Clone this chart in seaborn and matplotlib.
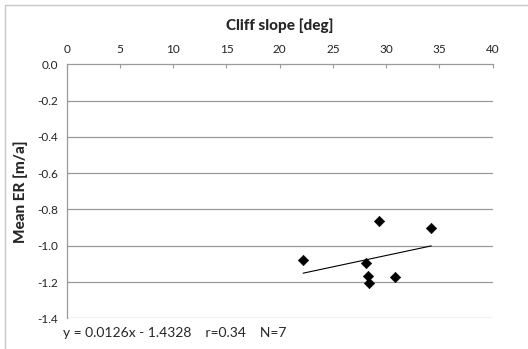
import numpy as np
import pandas as pd
import matplotlib
matplotlib.use("Agg")
import matplotlib.pyplot as plt
import seaborn as sns

slope_deg = [22.2, 28.13, 28.29, 28.42, 29.3, 30.83, 34.23]
mean_er = [-1.079, -1.094, -1.165, -1.204, -0.866, -1.174, -0.902]
x_ticks = [0, 5, 10, 15, 20, 25, 30, 35, 40]
y_ticks = [0.0, -0.2, -0.4, -0.6, -0.8, -1.0, -1.2, -1.4]
eq_text = "y = 0.0126x - 1.4328    r=0.34    N=7"

sns.set_style("white")
plt.rcParams['font.family'] = ['Lato', 'DejaVu Sans']

df = pd.DataFrame({"slope": slope_deg, "er": mean_er})
coef = np.polyfit(df["slope"], df["er"], 1)
xs = np.array([df["slope"].min(), df["slope"].max()])
fit = pd.DataFrame({"slope": xs, "er": np.polyval(coef, xs)})

fig = plt.figure(figsize=(5.28, 3.49), dpi=100)
W, H = 528, 349
ax = fig.add_axes([66.7 / W, 1 - 318.3 / H, (492.7 - 66.7) / W, (318.3 - 64.3) / H])

# outer chart border
fig.patches.append(plt.Rectangle((5 / W, -0.1), 1.2, 1 - 5 / H + 0.1, transform=fig.transFigure,
                                 fill=False, edgecolor="#c8c8c8", linewidth=1.0))

grid_c = "#9a9a9a"
for yv in y_ticks[1:]:
    ax.axhline(yv, color=grid_c, linewidth=0.9, zorder=0)

sns.lineplot(data=fit, x="slope", y="er", ax=ax, color="black", linewidth=0.8, zorder=2)
sns.scatterplot(data=df, x="slope", y="er", ax=ax, marker="D", s=28, color="black",
                edgecolor="black", zorder=3)

ax.set_xlim(0, 40)
ax.set_ylim(-1.4, 0.0)
ax.xaxis.tick_top()
ax.xaxis.set_label_position("top")
ax.set_xticks(x_ticks)
ax.set_xticklabels([str(v) for v in x_ticks])
ax.set_yticks(y_ticks)
ax.set_yticklabels([f"{v:.1f}" for v in y_ticks])
ax.tick_params(axis="x", direction="in", length=3, color=grid_c, labelsize=8.5, pad=7,
               top=True, bottom=False, labelcolor="#222222")
ax.tick_params(axis="y", direction="out", length=3, color=grid_c, labelsize=8.5, pad=3,
               labelcolor="#222222")

for s in ["right", "bottom"]:
    ax.spines[s].set_visible(False)
for s in ["top", "left"]:
    ax.spines[s].set_color(grid_c)
    ax.spines[s].set_linewidth(0.9)

ax.set_xlabel("Cliff slope [deg]", fontsize=11, fontweight=900, labelpad=9.5)
ax.set_ylabel("Mean ER [m/a]", fontsize=11, fontweight=900, labelpad=6.5)

fig.text(63 / W, 1 - 333 / H, eq_text, fontsize=10, va="center", ha="left")

fig.savefig("out.png", dpi=100)
